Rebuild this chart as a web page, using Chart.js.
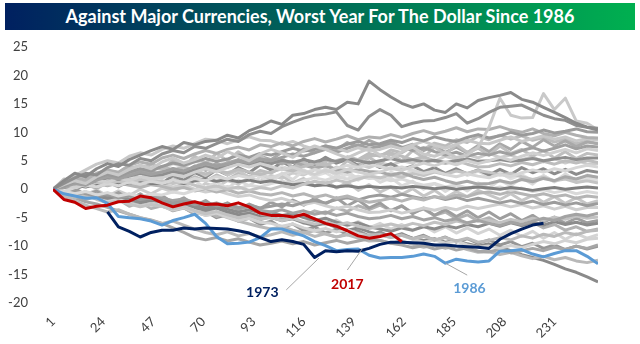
<!DOCTYPE html>
<html>
<head>
<meta charset="utf-8">
<script src="https://cdn.jsdelivr.net/npm/chart.js@4.4.1/dist/chart.umd.min.js"></script>
<style>
  html, body { margin: 0; padding: 0; background: #fff; }
  #wrap { position: relative; width: 640px; height: 344px; }
  #title {
    position: absolute; left: 5px; top: 3px; width: 630px; height: 27px;
    background: linear-gradient(to right, #002060, #00b050);
    color: #fff; font: bold 18px Lato, sans-serif; text-align: center; line-height: 27px;
  }
  canvas { position: absolute; left: 0; top: 0; }
</style>
</head>
<body>
<div id="wrap">
  <canvas id="chart" width="640" height="344"></canvas>
  <div id="title">Against Major Currencies, Worst Year For The Dollar Since 1986</div>
</div>
<script>
// trading day of the year for each sample
const days = [1,6,11,16,21,26,31,36,41,46,51,56,61,66,71,76,81,86,91,96,101,106,111,116,121,126,131,136,141,146,151,156,161,166,171,176,181,186,191,196,201,206,211,216,221,226,231,236,241,246,251];
const xTicks = [1, 24, 47, 70, 93, 116, 139, 162, 185, 208, 231];

// highlighted years (% change YTD)
const y2017 = [0,-1.8,-2.3,-3.4,-3.0,-2.8,-2.2,-2.1,-1.2,-1.5,-2.4,-3.1,-2.6,-2.2,-2.7,-2.6,-2.9,-2.4,-3.1,-4.2,-4.6,-4.6,-4.9,-4.4,-5.2,-6.0,-6.5,-7.3,-8.2,-8.6,-8.3,-7.8,-9.2];
const y1973 = [null,null,null,null,null,-4.0,-6.6,-7.4,-8.4,-7.6,-7.2,-7.2,-6.8,-7.0,-6.8,-6.9,-7.0,-7.3,-7.7,-8.5,-9.2,-8.9,-9.2,-9.7,-12.0,-10.8,-11.0,-10.8,-10.9,-10.4,-9.7,-9.3,-9.3,-9.4,-9.5,-9.8,-9.8,-10.0,-10.1,-10.2,-10.4,-8.8,-7.8,-7.0,-6.3,-6.0];
const y1986 = [0,-0.8,-1.2,-1.6,-1.5,-2.5,-4.8,-5.0,-5.2,-5.6,-6.3,-5.5,-5.0,-4.4,-6.0,-8.3,-9.6,-9.5,-9.3,-8.5,-7.0,-7.0,-7.6,-8.2,-9.2,-9.9,-10.8,-10.6,-10.5,-11.6,-12.1,-12.0,-12.0,-11.8,-11.4,-11.8,-13.0,-12.3,-12.6,-12.8,-12.6,-10.9,-10.8,-10.6,-11.4,-11.9,-11.3,-10.8,-10.8,-11.8,-13.1];

// all other years
const otherYears = [
  [0,1.5,2.8,2.2,3.6,4.5,4.0,5.2,6.0,6.8,7.5,7.0,8.2,7.8,8.4,8.6,9.5,9.0,10.3,11.0,12.0,11.4,13.0,13.3,14.0,14.4,14.0,15.3,15.0,19.0,17.5,16.2,15.1,14.4,15.0,13.9,13.5,15.0,14.3,15.6,16.1,16.5,17.0,15.8,15.3,14.4,13.5,12.6,11.6,10.9,10.4],
  [0,1.0,2.0,2.8,2.5,3.8,4.5,4.2,5.4,5.0,6.2,6.8,6.4,7.5,7.2,8.0,8.8,8.4,9.6,10.2,9.8,11.0,11.8,12.5,13.0,13.2,13.6,11.2,10.4,12.8,14.0,13.0,11.0,11.6,12.0,12.1,12.6,13.3,11.6,12.4,13.5,14.4,14.6,14.8,13.9,13.0,12.4,12.1,11.2,10.9,10.7],
  [0,0.8,1.5,1.0,2.2,3.0,2.5,3.5,4.2,3.6,4.8,5.5,4.6,5.2,6.0,5.4,6.6,5.8,5.0,6.2,7.0,6.4,5.6,6.8,7.6,7.0,6.2,5.5,6.4,7.2,6.0,5.4,6.6,7.4,6.2,5.8,6.5,5.6,6.0,7.4,10.9,16.0,13.0,12.5,12.6,16.8,14.0,16.0,12.0,11.6,10.4],
  [0,0.6,1.4,1.0,2.0,2.6,2.2,3.0,3.6,3.2,4.0,4.6,4.2,4.8,5.4,4.9,5.3,6.0,5.6,6.3,6.0,6.6,7.2,6.7,7.0,7.6,7.2,7.9,8.4,7.8,8.0,8.6,8.2,8.9,8.5,9.2,8.7,8.4,9.1,9.6,9.0,9.4,10.0,9.5,9.8,10.4,9.9,10.2,10.6,10.1,10.0],
  [0,1.2,2.0,1.6,2.8,3.4,3.0,4.2,4.8,4.4,5.5,6.0,5.4,6.2,6.8,6.3,7.0,7.4,6.9,7.8,7.5,8.2,7.6,8.4,8.9,8.3,8.8,9.4,8.7,9.2,9.0,9.6,9.1,9.8,10.3,9.7,10.2,10.8,10.1,10.6,10.5,11.0,10.4,10.0,10.6,9.8,9.4,10.0,9.5,9.1,9.0],
  [0,1.6,2.4,3.4,4.4,5.0,4.6,5.8,6.4,6.0,7.0,7.6,7.2,8.0,8.8,8.6,8.0,8.7,9.2,8.6,8.5,7.9,8.4,7.6,7.0,7.6,7.2,6.6,7.3,6.8,7.0,7.6,7.1,7.8,8.4,7.7,7.2,7.9,8.6,8.1,8.0,8.6,9.2,8.4,8.9,9.4,8.8,9.2,8.5,8.9,8.6],
  [0,0.4,1.0,0.7,1.6,2.2,1.8,2.4,3.0,2.6,3.0,3.6,3.2,4.0,4.6,4.1,4.4,5.0,4.6,5.3,5.0,5.6,6.2,5.8,6.4,7.0,6.5,7.2,7.8,7.2,7.5,8.0,7.4,6.8,7.3,6.6,6.0,6.5,5.8,6.3,6.0,6.6,6.1,6.8,7.3,6.7,7.2,7.8,7.1,7.6,7.4],
  [0,0.8,0.3,1.0,1.6,1.2,2.0,1.5,2.2,1.8,2.0,2.6,2.2,3.0,3.6,3.1,3.8,4.4,3.9,4.5,4.0,3.4,3.9,3.2,2.6,3.3,2.8,3.5,3.0,2.6,3.0,3.7,3.3,4.0,4.6,4.1,4.8,4.3,5.0,4.5,5.0,5.6,5.1,5.8,6.4,5.9,6.5,7.0,6.4,7.1,6.8],
  [0,0.5,1.1,0.8,1.5,2.0,1.7,2.3,2.8,2.4,2.5,3.1,2.8,3.4,3.9,3.5,4.0,4.6,4.2,4.8,4.5,5.1,4.7,5.2,4.8,5.3,4.9,5.4,5.0,4.6,5.0,5.4,4.9,5.2,4.8,5.1,4.7,5.0,5.3,4.9,5.0,5.2,4.9,5.1,5.4,5.0,5.3,5.6,5.2,5.5,5.5],
  [0,1.0,1.8,1.4,2.6,3.2,2.8,3.6,4.2,3.7,4.0,3.4,3.9,3.2,2.7,3.3,2.9,3.5,3.0,2.6,3.0,3.6,3.2,4.0,4.6,4.2,5.0,5.6,5.1,5.8,6.0,6.4,5.8,5.2,5.7,5.0,4.5,5.0,4.4,3.9,4.0,4.5,4.1,4.7,4.3,4.9,4.4,5.0,4.6,5.1,4.7],
  [0,-0.4,0.3,0.8,0.4,1.0,0.6,1.3,0.9,1.4,1.0,1.6,1.2,1.9,1.5,2.2,1.8,2.4,2.0,2.6,2.0,2.7,3.2,2.8,3.5,3.0,3.7,4.2,3.8,4.4,4.0,3.5,3.9,3.3,2.8,3.2,2.6,2.2,2.7,2.3,2.0,2.6,2.2,2.9,3.4,3.0,3.6,3.2,3.8,4.2,3.9],
  [0,0.7,1.3,1.0,1.8,2.4,2.0,2.7,3.2,2.8,3.0,3.6,3.2,3.9,4.4,4.0,4.6,5.2,4.7,5.3,5.0,4.5,4.9,4.2,3.7,4.1,3.5,3.0,3.5,3.1,3.0,2.5,2.9,2.2,1.7,2.1,1.5,1.0,1.4,0.9,1.0,1.5,1.1,1.7,1.3,1.9,1.5,2.2,1.8,2.4,2.1],
  [0,0.4,0.9,0.5,1.2,0.8,1.5,1.1,1.7,1.3,1.5,1.0,1.3,0.7,0.2,0.6,0.0,0.4,-0.2,0.3,0.0,0.6,0.2,0.9,1.4,1.0,1.6,1.2,1.8,2.3,2.0,2.5,2.1,2.8,2.4,3.0,2.6,3.2,2.8,3.3,3.0,2.5,2.8,2.2,1.7,2.1,1.5,1.8,1.2,1.5,1.1],
  [0,0.3,0.7,0.4,0.9,1.2,0.8,1.1,1.4,1.0,1.0,1.3,1.0,1.5,1.8,1.4,1.7,1.3,1.6,1.2,1.5,1.1,0.8,1.0,0.6,0.8,0.4,0.6,0.3,0.5,0.3,0.4,0.2,0.5,0.3,0.1,0.3,0.0,0.2,0.4,0.2,0.0,0.3,0.1,-0.2,0.1,0.3,0.0,0.2,0.4,0.2],
  [0,-0.3,-0.8,-0.4,-1.0,-0.6,-1.2,-0.8,-1.3,-0.9,-1.0,-0.5,-0.8,-0.2,0.3,-0.1,0.5,0.1,0.7,0.4,1.0,1.4,1.0,1.6,2.0,1.6,2.2,1.8,2.3,1.9,2.0,1.5,1.8,1.2,0.7,1.0,0.4,0.8,0.2,0.5,0.0,0.4,-0.2,0.2,-0.4,-0.1,-0.6,-0.2,-0.8,-0.4,-0.7],
  [0,0.4,0.9,0.5,1.0,0.6,1.1,0.7,0.3,0.8,0.5,0.0,0.3,-0.3,0.1,-0.5,-0.1,-0.7,-0.3,-0.8,-1.0,-0.6,-1.2,-0.8,-1.4,-1.0,-1.6,-1.2,-1.8,-2.3,-2.0,-1.6,-2.1,-1.5,-1.9,-1.3,-1.6,-1.0,-1.3,-0.7,-0.5,-0.9,-0.4,-0.8,-1.2,-0.8,-1.3,-1.0,-1.6,-1.2,-1.4],
  [0,-0.5,-0.2,-0.8,-1.2,-0.9,-1.5,-1.2,-1.8,-1.5,-2.0,-2.5,-2.1,-2.7,-2.3,-2.9,-2.5,-3.2,-2.8,-3.3,-3.0,-2.6,-2.9,-2.3,-2.0,-2.4,-1.8,-1.5,-1.9,-1.3,-1.0,-1.4,-0.9,-1.3,-1.7,-1.3,-1.8,-1.4,-2.0,-1.6,-2.0,-2.4,-2.0,-2.5,-2.1,-2.7,-2.3,-2.8,-2.4,-2.9,-2.5],
  [0,0.5,0.2,0.8,1.2,0.8,1.3,0.9,0.5,1.1,1.0,0.4,0.7,0.0,-0.5,-0.2,-0.8,-1.3,-1.0,-1.6,-2.0,-1.6,-2.2,-2.7,-2.3,-2.9,-3.4,-3.0,-3.6,-4.1,-4.0,-3.6,-4.2,-3.8,-3.3,-3.7,-3.2,-3.6,-3.0,-3.4,-3.0,-2.6,-3.1,-2.7,-3.3,-2.9,-3.5,-3.0,-3.6,-3.2,-3.2],
  [0,-0.4,-0.9,-0.5,-1.1,-0.7,-1.3,-0.9,-1.6,-1.2,-1.5,-2.0,-1.7,-2.3,-2.8,-2.4,-3.0,-3.5,-3.1,-3.7,-4.0,-3.6,-4.2,-3.8,-4.4,-4.0,-4.6,-4.2,-4.8,-5.2,-5.0,-4.6,-5.2,-4.8,-5.4,-5.0,-5.6,-5.2,-5.9,-5.5,-6.0,-6.4,-5.8,-6.2,-5.6,-5.1,-5.5,-4.8,-4.4,-4.7,-4.2],
  [0,-0.8,-1.4,-1.0,-1.8,-2.4,-2.0,-2.6,-3.1,-2.7,-3.0,-3.5,-3.1,-3.8,-4.3,-3.9,-4.5,-5.0,-4.6,-5.2,-5.0,-5.5,-5.1,-5.7,-6.1,-5.7,-6.3,-5.9,-6.5,-6.9,-6.5,-6.1,-6.6,-6.0,-6.4,-5.8,-6.2,-5.6,-6.0,-5.4,-5.5,-5.9,-5.3,-5.7,-5.1,-5.5,-4.9,-5.3,-4.7,-5.1,-4.9],
  [0,-0.5,-1.0,-0.6,-1.2,-1.6,-1.2,-1.8,-2.2,-1.8,-2.0,-2.5,-2.2,-2.8,-3.3,-2.9,-3.5,-4.0,-3.6,-4.2,-4.0,-4.6,-4.3,-5.0,-5.5,-5.1,-5.8,-6.3,-5.9,-6.6,-7.0,-7.4,-6.8,-7.2,-6.6,-7.0,-6.4,-6.8,-6.2,-6.6,-6.0,-6.5,-5.9,-6.4,-5.8,-6.3,-5.7,-6.2,-5.8,-6.3,-6.0],
  [0,-1.2,-2.0,-2.8,-3.4,-4.0,-3.6,-4.4,-5.0,-5.5,-6.0,-5.6,-6.3,-7.0,-7.6,-8.0,-7.5,-8.2,-7.8,-8.4,-8.0,-7.5,-8.1,-7.6,-8.3,-7.8,-8.4,-7.9,-8.5,-8.0,-8.0,-8.5,-8.1,-8.7,-8.3,-8.9,-8.5,-9.1,-8.6,-9.3,-9.0,-8.5,-8.9,-8.2,-8.6,-7.9,-8.3,-7.6,-8.0,-7.4,-7.2],
  [0,-0.6,-1.2,-0.8,-1.6,-2.2,-1.8,-2.5,-3.0,-2.6,-3.0,-3.6,-3.2,-4.0,-4.6,-4.2,-4.9,-5.5,-5.1,-5.8,-6.0,-6.5,-6.1,-6.8,-7.3,-6.9,-7.5,-7.1,-7.8,-8.2,-8.0,-8.5,-8.1,-8.8,-9.3,-8.9,-9.5,-9.1,-9.8,-10.2,-10.0,-10.4,-9.9,-10.3,-9.7,-9.2,-9.6,-9.0,-9.4,-8.8,-8.6],
  [0,-0.8,-1.5,-2.2,-2.6,-3.2,-3.8,-4.4,-5.0,-5.4,-6.0,-6.8,-7.6,-8.5,-8.9,-8.5,-9.1,-8.7,-9.3,-9.8,-9.5,-9.1,-9.6,-9.2,-9.8,-9.4,-9.0,-9.5,-9.1,-8.7,-9.0,-9.5,-9.8,-10.3,-9.9,-10.5,-10.1,-10.7,-10.3,-10.9,-11.0,-10.6,-11.2,-10.8,-10.4,-10.8,-10.2,-10.6,-10.0,-10.4,-9.8],
  [0,-0.5,-1.1,-0.7,-1.4,-2.0,-1.6,-2.3,-2.9,-2.5,-3.0,-3.6,-3.3,-4.0,-4.6,-4.3,-5.0,-5.6,-6.1,-6.6,-7.0,-6.6,-7.2,-7.7,-7.3,-7.9,-8.4,-8.0,-8.6,-9.1,-9.0,-9.5,-9.1,-9.7,-10.2,-9.8,-10.4,-10.0,-10.6,-11.1,-11.0,-11.5,-11.1,-11.7,-12.2,-11.8,-12.4,-12.0,-12.6,-12.9,-12.5],
  [0,-0.4,-0.9,-0.5,-1.2,-1.7,-1.3,-1.9,-2.4,-2.0,-2.2,-2.8,-2.5,-3.2,-3.7,-3.3,-4.0,-4.5,-4.2,-4.8,-5.0,-5.5,-5.2,-5.9,-6.4,-6.0,-6.7,-7.2,-6.8,-7.5,-8.0,-8.4,-8.0,-8.6,-9.0,-8.7,-9.3,-9.0,-9.6,-10.0,-9.6,-10.2,-10.8,-11.5,-12.0,-12.5,-13.2,-14.0,-14.6,-15.4,-16.3],
  [0,1.8,0.9,2.6,1.7,3.4,2.3,4.1,3.0,4.6,3.4,5.2,4.0,5.8,4.6,6.3,5.0,6.6,5.3,6.0,4.4,5.5,3.8,4.9,3.5,4.6,3.2,5.0,3.9,5.6,4.4,6.2,5.0,6.8,5.6,7.4,6.1,7.8,6.5,7.2,6.0,7.6,6.3,7.0,5.8,6.8,5.5,6.6,5.4,6.3,6.0],
  [0,1.2,0.2,1.6,0.6,2.1,1.0,2.4,1.3,2.0,0.8,1.7,0.4,1.5,0.2,1.3,0.1,1.6,0.6,2.2,1.2,2.8,1.7,3.3,2.2,3.6,2.4,3.1,1.8,2.6,1.2,2.0,0.6,1.4,0.0,1.0,-0.4,0.8,-0.3,1.1,0.2,1.6,0.6,2.0,0.9,2.4,1.3,2.7,1.5,2.5,2.0],
  [0,-0.9,0.1,-1.2,-0.3,-1.5,-0.6,-1.8,-0.8,-2.0,-1.1,-2.4,-1.5,-2.9,-2.0,-3.3,-2.4,-3.6,-2.6,-3.4,-2.3,-3.1,-1.9,-2.8,-1.6,-2.6,-1.5,-2.9,-1.9,-3.3,-2.4,-3.8,-2.9,-4.3,-3.3,-4.6,-3.6,-4.8,-3.8,-5.0,-4.0,-5.2,-4.3,-5.5,-4.6,-5.8,-4.9,-6.0,-5.1,-5.9,-5.5],
  [0,0.9,1.8,0.8,2.2,1.3,2.6,1.6,2.9,1.9,2.2,3.1,2.2,3.4,2.4,3.6,2.5,3.3,2.1,2.8,1.6,2.4,1.1,1.9,0.6,1.5,0.2,1.2,-0.2,0.8,-0.5,0.4,-0.9,0.1,-1.2,-0.2,-1.5,-0.4,-1.3,-0.2,-1.0,-1.8,-0.8,-2.0,-1.1,-2.3,-1.3,-2.5,-1.5,-2.6,-2.0],
  [0,0.8,-0.2,1.1,0.3,1.4,0.5,1.6,0.7,1.9,1.0,2.4,1.6,2.9,2.1,3.4,2.5,3.8,2.9,4.3,3.4,4.8,3.9,5.3,4.4,5.6,4.6,5.2,4.2,4.8,3.8,4.5,3.5,4.1,3.1,3.8,2.8,3.6,2.7,3.4,2.5,3.5,2.6,3.8,2.9,3.6,2.7,3.5,2.6,3.3,3.0],
  [0,-1.0,-0.3,-1.5,-0.8,-2.0,-1.2,-2.5,-1.7,-2.9,-2.2,-3.4,-2.6,-3.9,-3.1,-4.3,-3.5,-4.8,-4.0,-5.2,-4.4,-5.6,-4.8,-6.0,-5.1,-6.3,-5.4,-6.5,-5.7,-6.8,-6.0,-7.0,-6.2,-7.3,-6.4,-7.5,-6.6,-7.7,-6.8,-7.8,-7.0,-8.1,-7.2,-8.3,-7.4,-8.6,-7.6,-8.8,-7.8,-8.6,-8.0],
  [0,1.1,0.4,1.7,1.0,2.3,1.4,2.7,1.9,3.2,2.3,3.6,2.8,4.1,3.3,4.6,3.8,5.2,4.5,5.8,5.2,6.5,5.8,7.1,6.4,7.6,6.9,8.2,7.4,8.6,7.8,8.4,7.3,7.9,6.8,7.6,6.5,7.4,6.4,7.7,6.6,8.0,7.0,8.4,7.4,8.7,7.6,8.5,7.5,8.3,8.0],
  [0,-0.7,0.2,-1.0,-0.1,-1.2,-0.3,-1.1,0.0,-0.8,0.2,-0.5,0.6,-0.1,1.0,0.4,1.5,0.9,2.0,1.4,2.4,1.9,2.9,2.5,3.4,3.0,3.9,3.4,4.4,3.8,4.6,4.2,5.0,4.6,5.4,4.9,5.8,5.2,6.1,5.5,6.3,5.6,6.0,5.2,5.7,4.8,5.4,4.6,5.2,4.4,4.5],
  [0,-1.1,-0.5,-1.8,-1.2,-2.4,-1.8,-3.0,-2.3,-3.4,-2.9,-3.8,-3.3,-4.3,-3.8,-4.8,-4.2,-5.3,-4.6,-5.4,-4.8,-5.1,-4.3,-4.7,-3.8,-4.3,-3.3,-3.9,-2.9,-3.6,-2.8,-3.7,-3.0,-4.1,-3.5,-4.6,-4.0,-5.2,-4.5,-5.6,-5.0,-6.0,-5.4,-6.4,-5.8,-6.8,-6.2,-7.2,-6.6,-7.4,-7.0],
  [0,1.4,0.7,2.2,1.5,2.9,2.2,3.6,2.8,4.0,3.3,4.5,3.8,5.0,4.2,5.3,4.4,5.1,4.0,4.6,3.4,4.0,2.8,3.4,2.3,2.9,1.8,2.6,1.6,2.6,1.8,3.0,2.2,3.4,2.5,3.6,2.6,3.5,2.4,3.2,2.1,2.9,1.8,2.6,1.5,2.4,1.3,2.2,1.2,2.0,1.5],
  [0,-0.9,-0.3,-1.4,-0.8,-1.9,-1.4,-2.5,-2.0,-3.1,-2.6,-3.7,-3.2,-4.4,-3.9,-5.0,-4.5,-5.6,-5.1,-6.2,-5.6,-6.8,-6.1,-7.3,-6.6,-7.7,-7.0,-8.0,-7.3,-8.2,-7.5,-8.4,-7.8,-8.7,-8.1,-9.0,-8.4,-9.3,-8.7,-9.5,-8.9,-9.8,-9.2,-10.1,-9.5,-10.4,-9.8,-10.6,-10.0,-10.5,-10.0],
  [0,0.6,-0.2,0.9,0.1,1.2,0.4,1.4,0.6,1.5,0.8,1.8,1.1,2.2,1.4,2.5,1.7,2.8,2.2,3.3,2.8,3.9,3.4,4.5,4.0,5.1,4.6,5.7,5.2,6.3,5.8,6.9,6.4,7.5,7.0,8.1,7.6,8.7,8.2,9.3,8.7,9.5,8.8,9.4,8.6,9.1,8.3,8.8,8.0,8.5,8.0]
];

const grayShades = ['#8a8a8a','#8f8f8f','#c9c9c9','#9a9a9a','#b0b0b0','#c8c8c8','#a0a0a0','#d0d0d0','#8f8f8f','#bdbdbd','#d6d6d6','#a8a8a8','#c4c4c4','#7f7f7f','#d9d9d9','#b5b5b5','#9c9c9c','#cfcfcf','#a3a3a3','#c2c2c2','#8c8c8c','#bababa','#d2d2d2','#a6a6a6','#b8b8b8','#8a8a8a',
  '#bfbfbf','#dadada','#9e9e9e','#c6c6c6','#8c8c8c','#d4d4d4','#a9a9a9','#cccccc','#b2b2b2','#dedede','#969696','#bcbcbc'];

const callouts = [
  { text: '1973', color: '#002060', at: [97, -18.2], line: [108, -17.7, 123, -12.1] },
  { text: '2017', color: '#c00000', at: [136, -16.7], line: [136, -14.2, 143, -10.4] },
  { text: '1986', color: '#5b9bd5', at: [192, -17.4], line: [191, -15.1, 181, -13.0] }
];

const pts = vals => vals.map((v, i) => ({ x: days[i], y: v }));

const datasets = [
  { data: pts(y2017), borderColor: '#c00000', borderWidth: 3 },
  { data: pts(y1973), borderColor: '#002060', borderWidth: 3 },
  { data: pts(y1986), borderColor: '#5b9bd5', borderWidth: 3 }
];
otherYears.forEach((vals, k) => {
  datasets.push({ data: pts(vals), borderColor: grayShades[k % grayShades.length], borderWidth: 3 });
});

const calloutPlugin = {
  id: 'callouts',
  afterDatasetsDraw(chart) {
    const { ctx, scales: { x, y } } = chart;
    callouts.forEach(c => {
      ctx.save();
      ctx.strokeStyle = '#a6a6a6';
      ctx.lineWidth = 1;
      ctx.beginPath();
      ctx.moveTo(x.getPixelForValue(c.line[0]), y.getPixelForValue(c.line[1]));
      ctx.lineTo(x.getPixelForValue(c.line[2]), y.getPixelForValue(c.line[3]));
      ctx.stroke();
      ctx.fillStyle = c.color;
      ctx.font = 'bold 14px Lato, sans-serif';
      ctx.textAlign = 'center';
      ctx.textBaseline = 'middle';
      ctx.fillText(c.text, x.getPixelForValue(c.at[0]), y.getPixelForValue(c.at[1]));
      ctx.restore();
    });
  }
};

new Chart(document.getElementById('chart'), {
  type: 'line',
  data: { datasets: datasets },
  options: {
    responsive: false,
    animation: false,
    layout: { padding: { top: 47, right: 42, left: 0, bottom: 0 } },
    elements: { point: { radius: 0 }, line: { tension: 0, borderJoinStyle: 'round' } },
    plugins: { legend: { display: false }, tooltip: { enabled: false } },
    scales: {
      x: {
        type: 'linear', min: 1, max: 251,
        grid: { display: false }, border: { display: false },
        afterBuildTicks: s => { s.ticks = xTicks.map(v => ({ value: v })); },
        afterFit: s => { s.height = 41; },
        ticks: { autoSkip: false, maxRotation: 45, minRotation: 45, color: '#404040', font: { family: 'Lato', size: 13 } }
      },
      y: {
        min: -20, max: 25,
        grid: { display: false }, border: { display: false },
        afterFit: s => { s.width = 53; },
        ticks: { stepSize: 5, padding: 17, color: '#404040', font: { family: 'Lato', size: 13 } }
      }
    }
  },
  plugins: [calloutPlugin]
});
</script>
</body>
</html>
